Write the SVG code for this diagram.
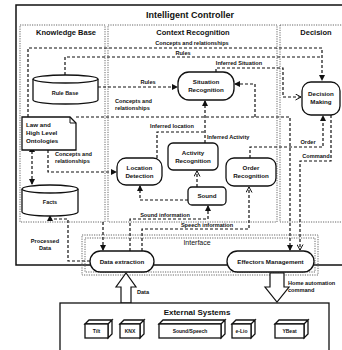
<svg xmlns="http://www.w3.org/2000/svg" width="342" height="350" viewBox="0 0 342 350">
<style>
text{font-family:"Liberation Sans",Arial,sans-serif;fill:#111}
.t{font-size:9px;font-weight:bold}
.h{font-size:7.5px;font-weight:bold}
.n{font-size:6.2px;text-anchor:middle;font-weight:bold}
.s{font-size:5.6px;font-weight:bold}
.sec{fill:none;stroke:#666;stroke-width:1;stroke-dasharray:1.2,1.2}
.box{fill:#fff;stroke:#111;stroke-width:1.3}
.c{fill:none;stroke:#111;stroke-width:1.2;stroke-dasharray:3,2}
.blk{fill:#fff;stroke:#111;stroke-width:1.2}
</style>
<defs>
<marker id="f" markerWidth="6" markerHeight="6" refX="5" refY="3" orient="auto" markerUnits="userSpaceOnUse"><path d="M0,0 L6,3 L0,6 z" fill="#111"/></marker>
<marker id="fs" markerWidth="6" markerHeight="6" refX="1" refY="3" orient="auto-start-reverse" markerUnits="userSpaceOnUse"><path d="M0,0 L6,3 L0,6 z" fill="#111"/></marker>
<marker id="o" markerWidth="7" markerHeight="7" refX="6" refY="3.5" orient="auto" markerUnits="userSpaceOnUse"><path d="M0.5,0.5 L6,3.5 L0.5,6.5" fill="none" stroke="#111" stroke-width="1"/></marker>
</defs>
<rect width="342" height="350" fill="#fff"/>

<g id="controller">
<rect x="16" y="5" width="340" height="260" fill="none" stroke="#111" stroke-width="1.5"/>
<text class="t" x="190" y="18" text-anchor="middle">Intelligent Controller</text>
</g>
<g id="knowledge-base">
<rect class="sec" x="20" y="25" width="85" height="197"/>
<text class="h" x="66" y="35" text-anchor="middle">Knowledge Base</text>
</g>
<g id="context-recognition">
<rect class="sec" x="108" y="25" width="169" height="197"/>
<text class="h" x="193" y="35" text-anchor="middle">Context Recognition</text>
</g>
<g id="decision">
<rect class="sec" x="280" y="25" width="70" height="197"/>
<text class="h" x="316" y="35" text-anchor="middle">Decision</text>
</g>
<g id="interface">
<rect class="sec" x="82" y="235" width="236" height="40"/>
<rect class="sec" x="85" y="238" width="230" height="34"/>
<text class="h" x="197" y="245" text-anchor="middle" style="font-weight:normal;font-size:7px">Interface</text>
</g>

<g id="connectors">
<path class="c" d="M28,117 V48 H322 V80" marker-end="url(#f)"/>
<path class="c" d="M65,75 V57 H322"/>
<path class="c" d="M98,87 H177" marker-end="url(#f)"/>
<path class="c" d="M216,72 V68 H283 V97 H301" marker-end="url(#o)"/>
<path class="c" d="M76,117 H290 V250" marker-end="url(#f)"/>
<path class="c" d="M255,117 V84 H235" marker-end="url(#f)"/>
<path class="c" d="M157,158 V132 H205"/>
<path class="c" d="M205,143 V101" marker-end="url(#f)"/>
<path class="c" d="M48,150 V172 H116" marker-end="url(#f)"/>
<path class="c" d="M32,151 V184" marker-start="url(#fs)" marker-end="url(#f)"/>
<path class="c" d="M188,200 H140 V186" marker-end="url(#f)"/>
<path class="c" d="M197,187 V171" marker-end="url(#o)"/>
<path class="c" d="M130,251 V219 H208 V206" marker-end="url(#f)"/>
<path class="c" d="M142,251 V229 H249 V187" marker-end="url(#o)"/>
<path class="c" d="M250,158 V147 H323 V116" marker-end="url(#f)"/>
<path class="c" d="M331,115 V161 H300 V250" marker-end="url(#o)"/>
<path class="c" d="M90,261 H68 V219 H50 V216" marker-end="url(#f)"/>
<path class="c" d="M103,222 V250" marker-end="url(#f)"/>
<text class="s" x="192" y="45" text-anchor="middle">Concepts and relationships</text>
<text class="s" x="183" y="55" text-anchor="middle">Rules</text>
<text class="s" x="239" y="65" text-anchor="middle">Inferred Situation</text>
<text class="s" x="148" y="84" text-anchor="middle">Rules</text>
<text class="s" x="115" y="103">Concepts and</text>
<text class="s" x="115" y="110">relationships</text>
<text class="s" x="172" y="128" text-anchor="middle">Inferred location</text>
<text class="s" x="207" y="139">Inferred Activity</text>
<text class="s" x="55" y="156">Concepts and</text>
<text class="s" x="55" y="163">relationships</text>
<text class="s" x="308" y="144" text-anchor="middle">Order</text>
<text class="s" x="316" y="158" text-anchor="middle">Command</text>
<text class="s" x="165" y="217" text-anchor="middle">Sound information</text>
<text class="s" x="207" y="227" text-anchor="middle">Speech information</text>
<text class="s" x="45" y="243" text-anchor="middle">Processed</text>
<text class="s" x="45" y="250" text-anchor="middle">Data</text>
<polygon class="blk" points="121,303 121,287 116,287 126,273 136,287 131,287 131,303"/>
<text class="s" x="143" y="294" text-anchor="middle">Data</text>
<polygon class="blk" points="270,273 270,287 265,287 277,302 289,287 284,287 284,273"/>
<text class="s" x="288" y="285">Home automation</text>
<text class="s" x="288" y="292">command</text>
</g>

<g id="rule-base">
<path class="box" d="M33,79 A32.5,4 0 0 1 98,79 V100 A32.5,4 0 0 1 33,100 Z"/>
<path fill="none" stroke="#111" stroke-width="1.3" d="M33,79 A32.5,4 0 0 0 98,79"/>
<text class="n" x="65" y="95" style="font-size:5.5px">Rule Base</text>
</g>
<g id="law-ontologies">
<path class="box" d="M22,117 H70 L76,123 V150 H22 Z"/>
<path fill="none" stroke="#111" stroke-width="1" d="M70,117 V123 H76"/>
<text class="s" x="26" y="127" style="font-size:6.2px">Law and</text>
<text class="s" x="26" y="135" style="font-size:6.2px">High Level</text>
<text class="s" x="26" y="143" style="font-size:6.2px">Ontologies</text>
</g>
<g id="facts">
<path class="box" d="M22,189 A28,4 0 0 1 78,189 V212 A28,4 0 0 1 22,212 Z"/>
<path fill="none" stroke="#111" stroke-width="1.3" d="M22,189 A28,4 0 0 0 78,189"/>
<text class="n" x="50" y="204" style="font-size:5.5px">Facts</text>
</g>
<g id="situation-recognition">
<rect class="box" x="178" y="72" width="56" height="28" rx="11"/>
<text class="n" x="206" y="84">Situation</text>
<text class="n" x="206" y="92">Recognition</text>
</g>
<g id="location-detection">
<rect class="box" x="117" y="158" width="45" height="27" rx="9"/>
<text class="n" x="139.5" y="170">Location</text>
<text class="n" x="139.5" y="178">Detection</text>
</g>
<g id="activity-recognition">
<rect class="box" x="168" y="143" width="50" height="27" rx="5"/>
<text class="n" x="193" y="155">Activity</text>
<text class="n" x="193" y="163">Recognition</text>
</g>
<g id="sound">
<rect class="box" x="188" y="187" width="38" height="18" rx="4"/>
<text class="n" x="207" y="198">Sound</text>
</g>
<g id="order-recognition">
<rect class="box" x="226" y="158" width="50" height="28" rx="8"/>
<text class="n" x="251" y="170">Order</text>
<text class="n" x="251" y="178">Recognition</text>
</g>
<g id="decision-making">
<rect class="box" x="302" y="82" width="38" height="33" rx="9"/>
<text class="n" x="321" y="96">Decision</text>
<text class="n" x="321" y="104">Making</text>
</g>
<g id="data-extraction">
<rect class="box" x="90" y="251" width="64" height="21" rx="10.5"/>
<text class="n" x="122" y="264">Data extraction</text>
</g>
<g id="effectors-management">
<rect class="box" x="227" y="251" width="87" height="21" rx="10.5"/>
<text class="n" x="270.5" y="264">Effectors Management</text>
</g>
<g id="external-systems">
<rect x="60" y="303" width="269" height="60" fill="#fff" stroke="#111" stroke-width="1.3"/>
<text class="h" x="197" y="315" text-anchor="middle" style="font-size:8px">External Systems</text>
</g>
<g id="ext-1">
<path class="box" d="M85,324 L89,320 H112 L108,324 Z M108,324 L112,320 V334 L108,338 Z"/>
<rect class="box" x="85" y="324" width="23" height="14"/>
<text class="n" x="96.5" y="333" style="font-size:5px">Tilt</text>
</g>
<g id="ext-2">
<path class="box" d="M120,324 L124,320 H144 L140,324 Z M140,324 L144,320 V334 L140,338 Z"/>
<rect class="box" x="120" y="324" width="20" height="14"/>
<text class="n" x="130" y="333" style="font-size:5px">KNX</text>
</g>
<g id="ext-3">
<path class="box" d="M159,324 L163,320 H225 L221,324 Z M221,324 L225,320 V334 L221,338 Z"/>
<rect class="box" x="159" y="324" width="62" height="14"/>
<text class="n" x="190" y="333" style="font-size:5px">Sound/Speech</text>
</g>
<g id="ext-4">
<path class="box" d="M232,324 L236,320 H255 L251,324 Z M251,324 L255,320 V334 L251,338 Z"/>
<rect class="box" x="232" y="324" width="19" height="14"/>
<text class="n" x="241.5" y="333" style="font-size:5px">e-Lio</text>
</g>
<g id="ext-5">
<path class="box" d="M275,324 L279,320 H308 L304,324 Z M304,324 L308,320 V334 L304,338 Z"/>
<rect class="box" x="275" y="324" width="29" height="14"/>
<text class="n" x="289.5" y="333" style="font-size:5px">YBeat</text>
</g>
</svg>
